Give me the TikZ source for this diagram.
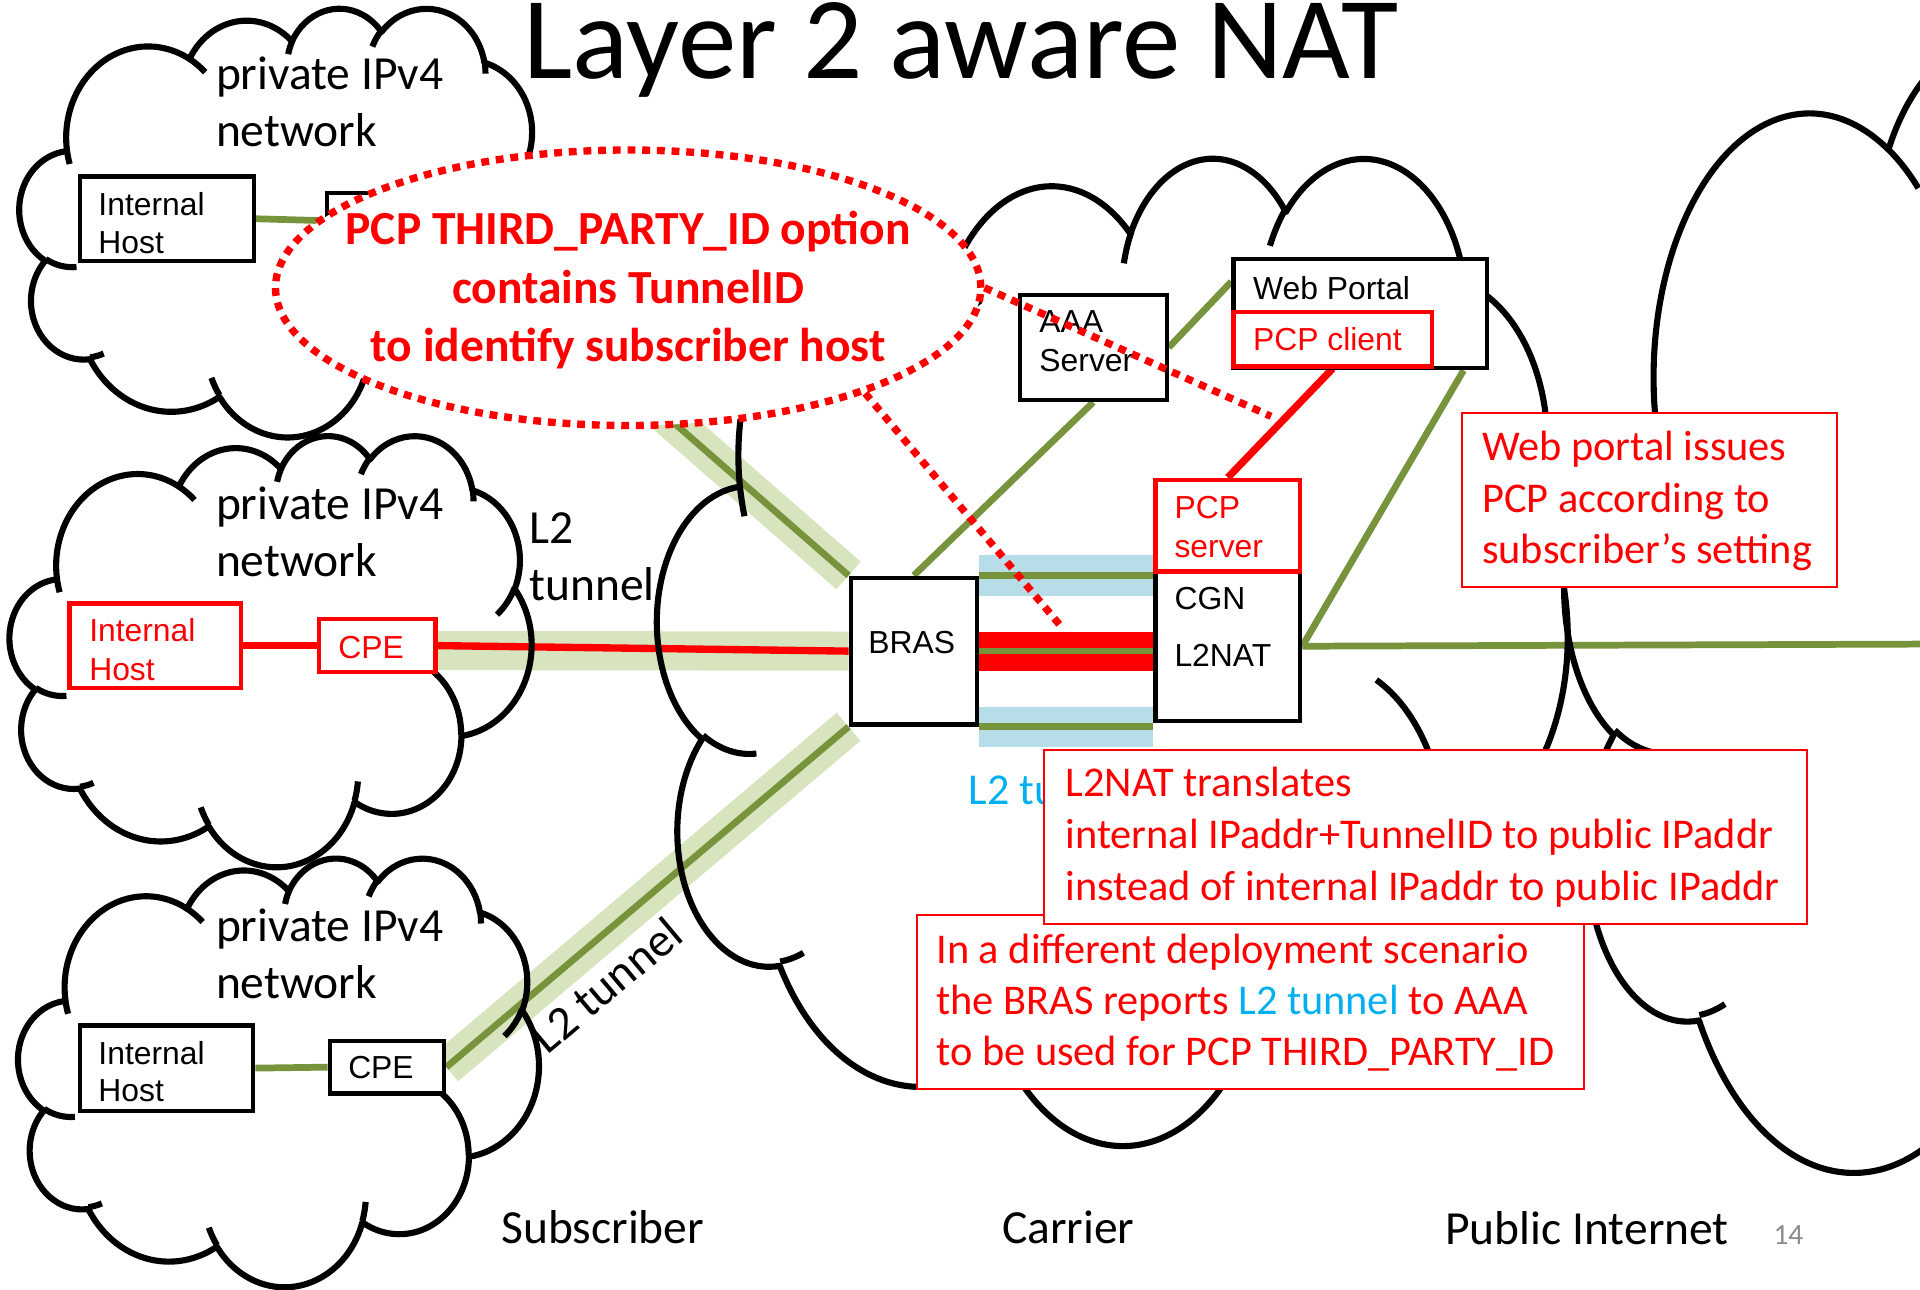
\documentclass[tikz,border=0pt]{standalone}
\usepackage{fontspec}
\setmainfont{Carlito}
\newfontfamily\arialf{Liberation Sans}
\usetikzlibrary{shapes.geometric,calc}
\definecolor{oliveG}{HTML}{77933C}
\definecolor{bandG}{HTML}{D7E4BD}
\definecolor{bandB}{HTML}{B7DDE8}
\definecolor{cyanT}{HTML}{00B0F0}
\definecolor{pgGray}{HTML}{8B8B8B}
\definecolor{pRed}{HTML}{FF0000}
\pgfdeclarelayer{bandL}\pgfdeclarelayer{lineL}\pgfdeclarelayer{cloudL}
\pgfdeclarelayer{ellL}\pgfdeclarelayer{dotL}\pgfdeclarelayer{tbL}
\pgfsetlayers{bandL,lineL,cloudL,main,ellL,dotL,tbL}
\newcommand\parc[4]{arc[x radius=#1, y radius=#2, start angle={atan2(#1*sin(#3),#2*cos(#3))}, delta angle={Mod(atan2(#1*sin(#3+#4),#2*cos(#3+#4))-atan2(#1*sin(#3),#2*cos(#3)),360)}]}
\newcommand\pptcloud[4]{%
 \pgfmathsetmacro\cldx{#3/86.4}\pgfmathsetmacro\cldy{#4/86.4}%
 \begin{scope}[shift={(#1,#2)},x=\cldx pt,y=-\cldy pt]
 \draw[cloudline] (3.900,14.370)
   \parc{6.753}{9.190}{-190.4875}{123.7805}
   \parc{5.333}{7.267}{-144.1024}{89.9452}
   \parc{4.365}{5.945}{-145.8079}{99.7230}
   \parc{4.857}{6.595}{-130.9861}{117.2417}
   \parc{5.333}{7.273}{-78.7089}{109.0269}
   \parc{6.775}{9.220}{-46.2673}{130.2690}
   \parc{5.785}{7.867}{0.6250}{114.0333}
   \parc{6.752}{9.215}{22.4516}{115.1726}
   \parc{7.720}{10.543}{66.2426}{75.7110}
   \parc{4.360}{5.918}{-274.9421}{146.7356}
   \parc{4.345}{5.945}{-246.8285}{152.5189} -- cycle;
 \draw[cloudline]
   (4.693,26.177) \parc{4.345}{5.945}{86.7420}{26.4295}
   (6.928,34.899) \parc{4.360}{5.918}{73.6105}{11.4475}
   (16.478,39.090) \parc{6.752}{9.215}{137.6242}{14.0811}
   (28.827,34.751) \parc{6.752}{9.215}{6.4533}{15.9984}
   (34.129,22.954) \parc{5.785}{7.867}{-70.2924}{70.9174}
   (41.798,15.354) \parc{5.333}{7.273}{30.3180}{27.7515}
   (38.324,5.426) \parc{4.857}{6.595}{-13.7443}{14.8589}
   (29.078,3.952) \parc{4.857}{6.595}{-149.1815}{18.1954}
   (22.141,4.720) \parc{4.365}{5.945}{-163.4943}{17.6864}
   (14.000,5.192) \parc{6.753}{9.190}{-66.7069}{12.3194}
   (4.127,15.789) \parc{6.753}{9.190}{157.6544}{11.8582};
 \end{scope}}
\newcommand\boxnode[6]{%
  \pgfmathsetmacro\bxW{(#5-#3)/2}\pgfmathsetmacro\bxH{(#6-#4)/2}%
  \node[#1, minimum width=\bxW pt, minimum height=\bxH pt, anchor=north west] (#2) at (#3,#4) {};}
\begin{document}
\begin{tikzpicture}[x=0.5pt,y=-0.5pt,
  cloudline/.style={draw=black,line width=2.5pt,line join=round},
  blkbox/.style={draw=black,line width=1.75pt,fill=white,inner sep=0pt},
  redbox/.style={draw=pRed,line width=1.75pt,fill=white,inner sep=0pt},
  tbox/.style={draw=pRed,line width=0.75pt,fill=white,inner sep=0pt},
  gline/.style={draw=oliveG,line width=2.75pt},
  rline/.style={draw=pRed,line width=3pt},
  bandline/.style={draw=bandG,line width=15pt},
  dotline/.style={draw=pRed,line width=3pt,dash pattern=on 3.2pt off 2.8pt},
  lbl/.style={anchor=base west,inner sep=0pt,align=left},
  cal/.style={font=\fontsize{19.4}{23.5}\selectfont},
  ari/.style={font=\arialf\fontsize{13}{15.5}\selectfont},
  boxtxt/.style={font=\fontsize{17.3}{21}\selectfont,text=pRed}]
\useasboundingbox (0,0) rectangle (1568,1053);

% ---------- boxes ----------
\boxnode{blkbox}{intA}{63.6}{142.3}{205.6}{211.5}
\boxnode{blkbox}{cpeA}{265.4}{156}{358}{201}
\boxnode{redbox}{intB}{55}{491}{195}{560}
\boxnode{redbox}{cpeB}{259}{504}{354}{547}
\boxnode{blkbox}{intC}{63.5}{835.8}{205}{905.3}
\boxnode{blkbox}{cpeC}{267.6}{848.3}{361}{891.2}
\boxnode{blkbox}{bras}{693}{470}{796}{590}
\boxnode{blkbox}{cgn}{942}{465}{1060}{587}
\boxnode{redbox}{pcps}{942}{390}{1060}{465}
\boxnode{blkbox}{aaa}{831}{239}{951}{325}
\boxnode{blkbox}{web}{1005.6}{210}{1212.7}{299}
\boxnode{redbox}{pcpc}{1005.6}{253}{1167.5}{297.5}

% multi-line nodes: base anchor = baseline of the last line
\node[lbl,ari] (tIntA) at (80,207) {Internal\\Host};
\node[lbl,font=\arialf\fontsize{13}{16}\selectfont,text=pRed] (tIntB) at (72.5,556) {Internal\\Host};
\node[lbl,ari,text=pRed] (tCpeB) at (276,538) {CPE};
\node[lbl,font=\arialf\fontsize{13}{15.1}\selectfont] (tIntC) at (80,899.6) {Internal\\Host};
\node[lbl,ari] (tCpeC) at (284,881) {CPE};
\node[anchor=base,inner sep=0pt,ari] (tBras) at (744.5,533.5) {BRAS};
\node[lbl,font=\arialf\fontsize{13}{23.25}\selectfont] (tCgn) at (958.8,544.5) {CGN\\L2NAT};
\node[lbl,font=\arialf\fontsize{13}{15.75}\selectfont,text=pRed] (tPcps) at (958.8,455) {PCP\\server};
\node[lbl,font=\arialf\fontsize{13}{15.75}\selectfont] (tAaa) at (848.5,303.3) {AAA\\Server};
\node[lbl,ari] (tWeb) at (1023,244.4) {Web Portal};
\node[lbl,ari,text=pRed] (tPcpc) at (1023,286.4) {PCP client};

\node[lbl,cal] (lc1) at (176,120) {private IPv4\\network};
\node[lbl,cal] (lc2) at (176,471) {private IPv4\\network};
\node[lbl,cal] (lc3) at (176,815.7) {private IPv4\\network};
\node[lbl,cal] (lTun2) at (432,490.5) {L2\\tunnel};
\node[lbl,cal,rotate=40] (lTun3) at (447,862) {L2 tunnel};
\node[lbl,font=\fontsize{18}{21}\selectfont,text=cyanT] (lTunBlue) at (790.8,657.4) {L2 tunnel};
\node[lbl,font=\fontsize{47.8}{56}\selectfont] (title) at (427,64.5) {Layer 2 aware NAT};
\node[lbl,cal] (lSub) at (409,1015.5) {Subscriber};
\node[lbl,cal] (lCar) at (818,1015.4) {Carrier};
\node[lbl,cal] (lPub) at (1180,1016) {Public Internet};
\node[lbl,font=\fontsize{12}{14}\selectfont,text=pgGray] (lNum) at (1448,1016) {14};

\coordinate (edgeR) at (1570,526);
\coordinate (dotEnd1) at (1038,340);
\coordinate (dotEnd2) at (866,511);

% ---------- bands ----------
\begin{pgfonlayer}{bandL}
\draw[bandline] (cpeA.east) -- (bras.north west);
\draw[bandline,line width=16pt] ($(cpeB.east)+(0,4)$) -- (bras.west);
\draw[bandline] (cpeC.east) -- (bras.south west);
\draw[draw=bandB,line width=16.5pt] (bras.north east) -- (bras.north east -| cgn.west);
\draw[draw=bandB,line width=16.5pt] (bras.south east) -- (bras.south east -| cgn.west);
\draw[draw=pRed,line width=16pt] (bras.east) -- (bras.east -| cgn.west);
\end{pgfonlayer}

% ---------- connectors ----------
\begin{pgfonlayer}{lineL}
\draw[gline] (intA.east) -- (cpeA.west);
\draw[gline] (cpeA.east) -- (bras.north west);
\draw[rline] (intB.east) -- (cpeB.west);
\draw[rline] (cpeB.east) -- (bras.west);
\draw[gline] (intC.east) -- (cpeC.west);
\draw[gline] (cpeC.east) -- (bras.south west);
\draw[gline] (bras.north) -- (aaa.south);
\draw[gline] (aaa.east) -- ($(web.north west)+(0,20)$);
\draw[gline] ($(web.south east)+(-21,0)$) -- (cgn.east);
\draw[gline] (cgn.east) -- (edgeR);
\draw[rline] (pcpc.south) -- (pcps.north);
\draw[gline] (bras.north east) -- (bras.north east -| cgn.west);
\draw[gline] (bras.south east) -- (bras.south east -| cgn.west);
\draw[gline] (bras.east) -- (bras.east -| cgn.west);
\end{pgfonlayer}

% ---------- clouds ----------
\begin{pgfonlayer}{cloudL}
\pptcloud{16}{6}{428}{350}
\pptcloud{8}{355}{426}{352}
\pptcloud{15}{700}{425}{350}
\pptcloud{537}{127}{743}{806}
\pptcloud{1278}{0}{815}{1015}
\end{pgfonlayer}

% ---------- callout ellipse ----------
\begin{pgfonlayer}{ellL}
\node[ellipse,draw=pRed,line width=3pt,dash pattern=on 3.2pt off 2.8pt,fill=white,
      minimum width=288pt,minimum height=112.5pt,inner sep=0pt] (ell) at (513,235) {};
\node[anchor=base,inner sep=0pt,align=center,font=\bfseries\fontsize{19.4}{23.75}\selectfont,text=pRed]
   (ellTxt) at (513,295) {PCP THIRD\_PARTY\_ID option\\contains TunnelID\\to identify subscriber host};
\end{pgfonlayer}

\begin{pgfonlayer}{dotL}
\draw[dotline] (ell.east) -- (dotEnd1);
\draw[dotline] (ell.-24) -- (dotEnd2);
\end{pgfonlayer}

% ---------- text boxes ----------
\begin{pgfonlayer}{tbL}
\boxnode{tbox}{tbDep}{747.8}{746.7}{1293}{888.3}
\node[lbl,boxtxt,font=\fontsize{17.3}{20.78}\selectfont] (tDep) at (764.4,869.8) {In a different deployment scenario\\the BRAS reports \textcolor{cyanT}{L2 tunnel} to AAA\\to be used for PCP THIRD\_PARTY\_ID};
\boxnode{tbox}{tbNat}{851.5}{611.7}{1475}{754}
\node[lbl,boxtxt,font=\fontsize{17.3}{21.3}\selectfont] (tNat) at (869.7,735.6) {L2NAT translates\\internal IPaddr+TunnelID to public IPaddr\\instead of internal IPaddr to public IPaddr};
\boxnode{tbox}{tbWeb}{1193}{336.2}{1499.4}{478.3}
\node[lbl,boxtxt,font=\fontsize{17.3}{20.9}\selectfont] (tWebNote) at (1210,460) {Web portal issues\\PCP according to\\subscriber’s setting};
\end{pgfonlayer}
\end{tikzpicture}
\end{document}
